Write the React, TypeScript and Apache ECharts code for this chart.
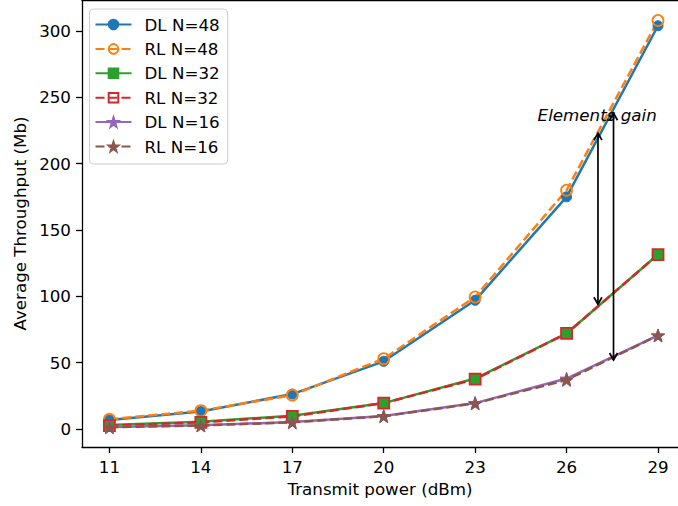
import React, { useEffect, useRef } from "react";
import * as echarts from "echarts";

const xValues = [11, 14, 17, 20, 23, 26, 29];
const dl48 = [6.8, 13.2, 26.3, 51, 97, 175, 304];
const rl48 = [7.3, 13.8, 25.5, 53, 99.5, 180, 308];
const dl32 = [3, 5.5, 10, 19.5, 38, 72, 131.5];
const rl32 = [2.5, 5, 9.5, 19.5, 37.5, 72, 131.5];
const dl16 = [1.5, 2.8, 5.2, 9.7, 19.5, 38, 70.5];
const rl16 = [1.3, 2.6, 5, 9.6, 19.3, 37, 70.5];

const xTicks = [11, 14, 17, 20, 23, 26, 29];
const yTicks = [0, 50, 100, 150, 200, 250, 300];

// annotation arrows: x, low end, high end (data units)
const arrowX = [27.03, 27.54];
const arrowLow = [94, 52];
const arrowHigh = [223, 238];
const annotationText = "Elements gain";
const annotationX = 25.05;
const annotationY = 237;

const STAR =
  "path://M50,0 L61.8,35.1 L98.1,35.1 L68.8,56.7 L79.4,90.9 L50,69.7 L20.6,90.9 L31.2,56.7 L1.9,35.1 L38.2,35.1 Z";

const FONT = "DejaVu Sans";
const FS = 16.7;

export default function App() {
  const ref = useRef<HTMLDivElement>(null);
  useEffect(() => {
    if (!ref.current) return;
    const chart = echarts.init(ref.current, null, { renderer: "svg" });
    const dash = [9, 4];
    const mk = (
      name: string,
      data: number[],
      color: string,
      symbol: string,
      size: number,
      hollow: boolean,
      dashed: boolean
    ) => ({
      name,
      type: "line",
      data: xValues.map((x, i) => [x, data[i]]),
      symbol,
      symbolSize: size,
      showAllSymbol: true,
      lineStyle: { color, width: 2.5, type: dashed ? dash : "solid" },
      itemStyle: hollow
        ? { color: "rgba(0,0,0,0)", borderColor: color, borderWidth: 1.8 }
        : { color, borderColor: color, borderWidth: 1 },
      emphasis: { disabled: true },
    });
    const ink = "#000";
    chart.setOption({
      animation: false,
      textStyle: { fontFamily: FONT },
      grid: {
        left: 82,
        top: 0,
        right: 0,
        bottom: 59,
        show: false,
      },
      legend: {
        orient: "vertical",
        left: 89.5,
        top: 9,
        padding: [7, 8, 9, 5],
        itemWidth: 36,
        itemHeight: 12,
        itemGap: 7.4,
        backgroundColor: "rgba(255,255,255,0.8)",
        borderColor: "#cccccc",
        borderWidth: 1,
        borderRadius: 4,
        textStyle: {
          fontFamily: FONT,
          fontSize: FS,
          color: ink,
          lineHeight: 17,
          padding: [0, 0, 0, 8],
        },
        data: ["DL N=48", "RL N=48", "DL N=32", "RL N=32", "DL N=16", "RL N=16"],
      },
      xAxis: [
        {
          type: "value",
          min: 10.1,
          max: 29.656,
          name: "Transmit power (dBm)",
          nameLocation: "middle",
          nameGap: 33,
          nameTextStyle: { fontFamily: FONT, fontSize: FS, color: ink },
          axisLine: { show: true, onZero: false, lineStyle: { color: ink, width: 1.3 } },
          axisTick: { show: true, length: 6, lineStyle: { color: ink, width: 1.3 }, customValues: xTicks },
          axisLabel: { fontFamily: FONT, fontSize: FS, color: ink, margin: 11, customValues: xTicks },
          splitLine: { show: false },
        },
        {
          type: "value",
          position: "top",
          min: 10.1,
          max: 29.656,
          axisLine: { show: true, onZero: false, lineStyle: { color: ink, width: 1.3 } },
          axisTick: { show: false },
          axisLabel: { show: false },
          splitLine: { show: false },
        },
      ],
      yAxis: {
        type: "value",
        min: -13.6,
        max: 323.4,
        name: "Average Throughput (Mb)",
        nameLocation: "middle",
        nameGap: 51,
        nameTextStyle: { fontFamily: FONT, fontSize: FS, color: ink },
        axisLine: { show: true, onZero: false, lineStyle: { color: ink, width: 1.3 } },
        axisTick: { show: true, length: 6, lineStyle: { color: ink, width: 1.3 }, customValues: yTicks },
        axisLabel: { fontFamily: FONT, fontSize: FS, color: ink, margin: 11, customValues: yTicks },
        splitLine: { show: false },
      },
      series: [
        mk("DL N=48", dl48, "#1f77b4", "circle", 10, false, false),
        mk("RL N=48", rl48, "#ff7f0e", "circle", 11, true, true),
        mk("DL N=32", dl32, "#2ca02c", "rect", 10, false, false),
        mk("RL N=32", rl32, "#d62728", "rect", 11, true, true),
        mk("DL N=16", dl16, "#9467bd", STAR, 13, false, false),
        mk("RL N=16", rl16, "#8c564b", STAR, 13, false, true),
        {
          type: "custom",
          name: "arrows",
          silent: true,
          z: 10,
          data: arrowX.map((x, i) => [x, arrowLow[i], arrowHigh[i]]),
          renderItem: (params: any, api: any) => {
            const x = api.value(0);
            const lo = api.coord([x, api.value(1)]);
            const hi = api.coord([x, api.value(2)]);
            const hl = 7;
            const hw = 4;
            const style = { stroke: "#000", lineWidth: 1.7, fill: "none" };
            return {
              type: "group",
              children: [
                { type: "line", shape: { x1: lo[0], y1: lo[1], x2: hi[0], y2: hi[1] }, style },
                {
                  type: "polyline",
                  shape: { points: [[hi[0] - hw, hi[1] + hl], [hi[0], hi[1]], [hi[0] + hw, hi[1] + hl]] },
                  style,
                },
                {
                  type: "polyline",
                  shape: { points: [[lo[0] - hw, lo[1] - hl], [lo[0], lo[1]], [lo[0] + hw, lo[1] - hl]] },
                  style,
                },
              ],
            };
          },
        },
        {
          type: "custom",
          name: "annotation",
          silent: true,
          z: 11,
          data: [[annotationX, annotationY]],
          renderItem: (params: any, api: any) => {
            const p = api.coord([api.value(0), api.value(1)]);
            return {
              type: "text",
              x: p[0],
              y: p[1],
              style: {
                text: annotationText,
                fontFamily: FONT,
                fontSize: FS,
                fontStyle: "italic",
                fill: "#000",
                align: "left",
                verticalAlign: "middle",
              },
            };
          },
        },
      ],
    });
    return () => chart.dispose();
  }, []);
  return (
    <div
      ref={ref}
      style={{ width: 678, height: 506, position: "absolute", left: 0, top: 0, background: "#fff" }}
    />
  );
}
